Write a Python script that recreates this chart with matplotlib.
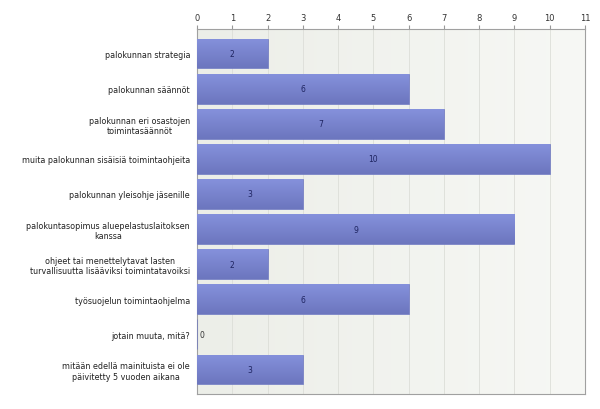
import matplotlib
matplotlib.use("Agg")
import matplotlib.pyplot as plt
import numpy as np
from matplotlib.colors import LinearSegmentedColormap

categories = [
    "palokunnan strategia",
    "palokunnan säännöt",
    "palokunnan eri osastojen\ntoimintasäännöt",
    "muita palokunnan sisäisiä toimintaohjeita",
    "palokunnan yleisohje jäsenille",
    "palokuntasopimus aluepelastuslaitoksen\nkanssa",
    "ohjeet tai menettelytavat lasten\nturvallisuutta lisääviksi toimintatavoiksi",
    "työsuojelun toimintaohjelma",
    "jotain muuta, mitä?",
    "mitään edellä mainituista ei ole\npäivitetty 5 vuoden aikana",
]
values = [2, 6, 7, 10, 3, 9, 2, 6, 0, 3]
xticks = list(range(0, 12))

plt.rcParams["font.family"] = ["DejaVu Sans"]

fig = plt.figure(figsize=(6, 4.1), dpi=100)
ax = fig.add_axes([197/600, 1 - 395/410, (585-197)/600, (395-30)/410])

n = len(categories)
ylo, yhi = -0.705, n - 1 + 0.705

grad = np.linspace(0, 1, 256).reshape(1, -1)
bg = LinearSegmentedColormap.from_list("bg", ["#ECEEE8", "#F7F8F5"])
ax.imshow(grad, extent=[0, 11, yhi, ylo], aspect="auto", cmap=bg, zorder=0)

y = np.arange(n)
bars = ax.barh(y, values, height=0.84, color="#7C87D2", edgecolor="#6E78C0",
               linewidth=0.5, zorder=3)

bar_cmap = LinearSegmentedColormap.from_list("bar", ["#8591DC", "#6C76BE"])
for b in bars:
    if b.get_width() <= 0:
        continue
    x0, y0 = b.get_x(), b.get_y()
    w, h = b.get_width(), b.get_height()
    im = ax.imshow(np.linspace(0, 1, 64).reshape(-1, 1),
                   extent=[x0, x0 + w, y0 + h, y0], aspect="auto",
                   cmap=bar_cmap, zorder=3)
    im.set_clip_path(b)

for yi, v in zip(y, values):
    if v > 0:
        ax.text(v / 2, yi, str(v), ha="center", va="center", fontsize=5.5,
                color="#1E2460", zorder=5)
    else:
        ax.text(0.07, yi, str(v), ha="left", va="center", fontsize=5.5,
                color="#333333", zorder=5)

ax.set_xlim(0, 11)
ax.set_ylim(yhi, ylo)
ax.set_xticks(xticks)
ax.set_xticklabels([str(t) for t in xticks], fontsize=6, color="#333333")
ax.xaxis.tick_top()
ax.tick_params(axis="x", length=3, color="#999999", pad=2)
ax.set_yticks(y)
ax.set_yticklabels(categories, fontsize=5.8, color="#222222",
                   multialignment="center")
ax.tick_params(axis="y", length=0, pad=5)
ax.grid(axis="x", color="#DCDED8", linewidth=0.6, zorder=1)
ax.set_axisbelow(True)
for s in ax.spines.values():
    s.set_color("#A0A0A0")
    s.set_linewidth(0.8)

fig.savefig("out.png", dpi=100)
